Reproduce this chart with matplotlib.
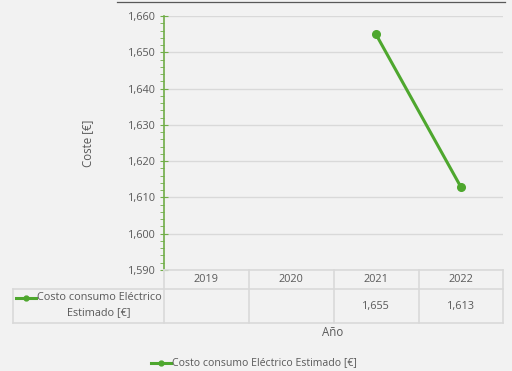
import matplotlib.pyplot as plt
from matplotlib.lines import Line2D

years = ['2019', '2020', '2021', '2022']
coste = [None, None, 1655, 1613]
serie = 'Costo consumo Eléctrico Estimado [€]'

plt.rcParams['font.family'] = ['Open Sans', 'DejaVu Sans']
bg = '#f2f2f2'
txt = '#595959'
verde = '#4ea72e'
verde_eje = '#70ad47'
rejilla = '#d9d9d9'

fig = plt.figure(figsize=(5.12, 3.71), dpi=100, facecolor=bg)
W, H = 512, 371
ax = fig.add_axes([164 / W, 1 - 270 / H, 339 / W, 254 / H], facecolor=bg)

xs = [i for i, v in enumerate(coste) if v is not None]
ys = [v for v in coste if v is not None]
ax.plot(xs, ys, color=verde, lw=2.2, marker='o', ms=5.5, zorder=3)

ax.set_xlim(-0.5, len(years) - 0.5)
ax.set_ylim(1590, 1660)
ax.set_yticks(range(1590, 1661, 10))
ax.set_yticks(range(1590, 1661, 2), minor=True)
ax.set_yticklabels([f'{v:,}' for v in range(1590, 1661, 10)])
ax.set_xticks([])
for s in ['top', 'right', 'bottom']:
    ax.spines[s].set_visible(False)
ax.spines['left'].set_color(verde_eje)
ax.spines['left'].set_linewidth(1.2)
ax.tick_params(axis='y', which='major', direction='inout', length=6,
               color=verde_eje, labelcolor=txt, labelsize=7.8, pad=3)
ax.tick_params(axis='y', which='minor', direction='out', length=3,
               color=verde_eje)
ax.yaxis.grid(True, color=rejilla, lw=1)
ax.set_axisbelow(True)
ax.set_ylabel('Coste [€]', color=txt, fontsize=8.3, labelpad=24)

# tabla de datos bajo el eje
tr = fig.transFigure
def fx(px):
    return px / W
def fy(py):
    return 1 - py / H

col_x = [164, 248.5, 333.5, 418.5, 503]
row_y = [270, 289, 323]
lc = '#d9d9d9'
for y in row_y[:1]:
    fig.add_artist(Line2D([fx(164), fx(503)], [fy(y), fy(y)], color=lc, lw=1.2, transform=tr))
for y in row_y[1:]:
    fig.add_artist(Line2D([fx(13), fx(503)], [fy(y), fy(y)], color=lc, lw=1.2, transform=tr))
for x in col_x:
    fig.add_artist(Line2D([fx(x), fx(x)], [fy(270), fy(323)], color=lc, lw=1.2, transform=tr))
fig.add_artist(Line2D([fx(13), fx(13)], [fy(289), fy(323)], color=lc, lw=1.2, transform=tr))

for i, yr in enumerate(years):
    cx = (col_x[i] + col_x[i + 1]) / 2
    fig.text(fx(cx), fy(280), yr, ha='center', va='center', color=txt, fontsize=7.8)
    if coste[i] is not None:
        fig.text(fx(cx), fy(306), f'{coste[i]:,}', ha='center', va='center',
                 color=txt, fontsize=7.8)

fig.add_artist(Line2D([fx(16), fx(26), fx(36)], [fy(298)] * 3, color=verde, lw=2.2,
                      marker='o', ms=3.5, markevery=[1], transform=tr))
fig.text(fx(37), fy(298), 'Costo consumo Eléctrico', ha='left', va='center',
         color=txt, fontsize=7.8)
fig.text(fx(99), fy(313), 'Estimado [€]', ha='center', va='center',
         color=txt, fontsize=7.8)

fig.text(fx(333), fy(333), 'Año', ha='center', va='center', color=txt, fontsize=8.3)

# leyenda inferior
fig.add_artist(Line2D([fx(151), fx(161), fx(171)], [fy(363)] * 3, color=verde, lw=2.2,
                      marker='o', ms=3.5, markevery=[1], transform=tr))
fig.text(fx(172), fy(363), serie, ha='left', va='center', color=txt, fontsize=7.6)

# línea superior
fig.add_artist(Line2D([fx(117), fx(505)], [fy(1.5), fy(1.5)], color='#595959', lw=0.9, transform=tr))

fig.savefig('out.png', dpi=100, facecolor=bg)
